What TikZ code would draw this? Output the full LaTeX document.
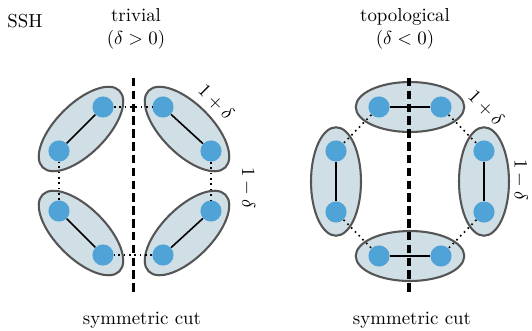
\documentclass[tikz,border=0pt]{standalone}
\usetikzlibrary{shapes.geometric}
\definecolor{pairfill}{HTML}{D0DEE6}
\definecolor{pairedge}{HTML}{555555}
\definecolor{dotblue}{HTML}{4FA3D6}
\tikzset{
  pair/.style={ellipse, draw=pairedge, fill=pairfill, line width=1.1pt, minimum width=57.5pt, minimum height=26.5pt, inner sep=0pt},
  site/.style={circle, fill=dotblue, minimum size=11.2pt, inner sep=0pt},
  bond/.style={line width=0.85pt},
  weak/.style={line width=0.85pt, dotted},
  cut/.style={line width=1.6pt, dash pattern=on 4.5pt off 2.3pt},
  lbl/.style={font=\normalsize, inner sep=0pt}
}
\begin{document}
\begin{tikzpicture}[x=0.53pt,y=-0.53pt]
\useasboundingbox (0,0) rectangle (532,330);
% titles
\node[lbl] (ssh) at (25,21) {SSH};
\node[lbl, align=center] (triv) at (136,29) {trivial\\$(\delta>0)$};
\node[lbl, align=center] (topo) at (405,29) {topological\\$(\delta<0)$};
\node[lbl] (cutL) at (142,320) {symmetric cut};
\node[lbl] (cutR) at (412,320) {symmetric cut};
% ---------- trivial ----------
\node[pair, rotate=45] (eTL) at (81,129) {};
\node[pair, rotate=-45] (eTR) at (187,129) {};
\node[pair, rotate=-45] (eBL) at (81,233) {};
\node[pair, rotate=45] (eBR) at (187,233) {};
\coordinate (cLt) at (133.5,78);
\coordinate (cLb) at (133.5,293);
\draw[cut] (cLt) -- (cLb);
\node[site] (a1) at (103,107) {};
\node[site] (a2) at (59,151) {};
\node[site] (b1) at (163,107) {};
\node[site] (b2) at (211,151) {};
\node[site] (c1) at (59,211) {};
\node[site] (c2) at (103,255) {};
\node[site] (d1) at (211,211) {};
\node[site] (d2) at (163,255) {};
\draw[bond] (a1) -- (a2);
\draw[bond] (b1) -- (b2);
\draw[bond] (c1) -- (c2);
\draw[bond] (d1) -- (d2);
\draw[weak] (a1) -- (b1);
\draw[weak] (b2) -- (d1);
\draw[weak] (d2) -- (c2);
\draw[weak] (c1) -- (a2);
\node[lbl, rotate=-45] (tp1) at (216,102) {$1+\delta$};
\node[lbl, rotate=-90] (tm1) at (248,188) {$1-\delta$};
% ---------- topological ----------
\node[pair] (fT) at (410,107) {};
\node[pair] (fB) at (410,256) {};
\node[pair, rotate=90] (fL) at (336,181.5) {};
\node[pair, rotate=90] (fR) at (484,181.5) {};
\coordinate (cRt) at (409,78);
\coordinate (cRb) at (409,293);
\draw[cut] (cRt) -- (cRb);
\node[site] (p1) at (379,107) {};
\node[site] (p2) at (441,107) {};
\node[site] (q1) at (336,151) {};
\node[site] (q2) at (336,212) {};
\node[site] (r1) at (484,151) {};
\node[site] (r2) at (484,212) {};
\node[site] (s1) at (379,256) {};
\node[site] (s2) at (441,256) {};
\draw[bond] (p1) -- (p2);
\draw[bond] (q1) -- (q2);
\draw[bond] (r1) -- (r2);
\draw[bond] (s1) -- (s2);
\draw[weak] (p1) -- (q1);
\draw[weak] (p2) -- (r1);
\draw[weak] (q2) -- (s1);
\draw[weak] (r2) -- (s2);
\node[lbl, rotate=-45] (tp2) at (486,108) {$1+\delta$};
\node[lbl, rotate=-90] (tm2) at (520.5,180) {$1-\delta$};
\end{tikzpicture}
\end{document}
